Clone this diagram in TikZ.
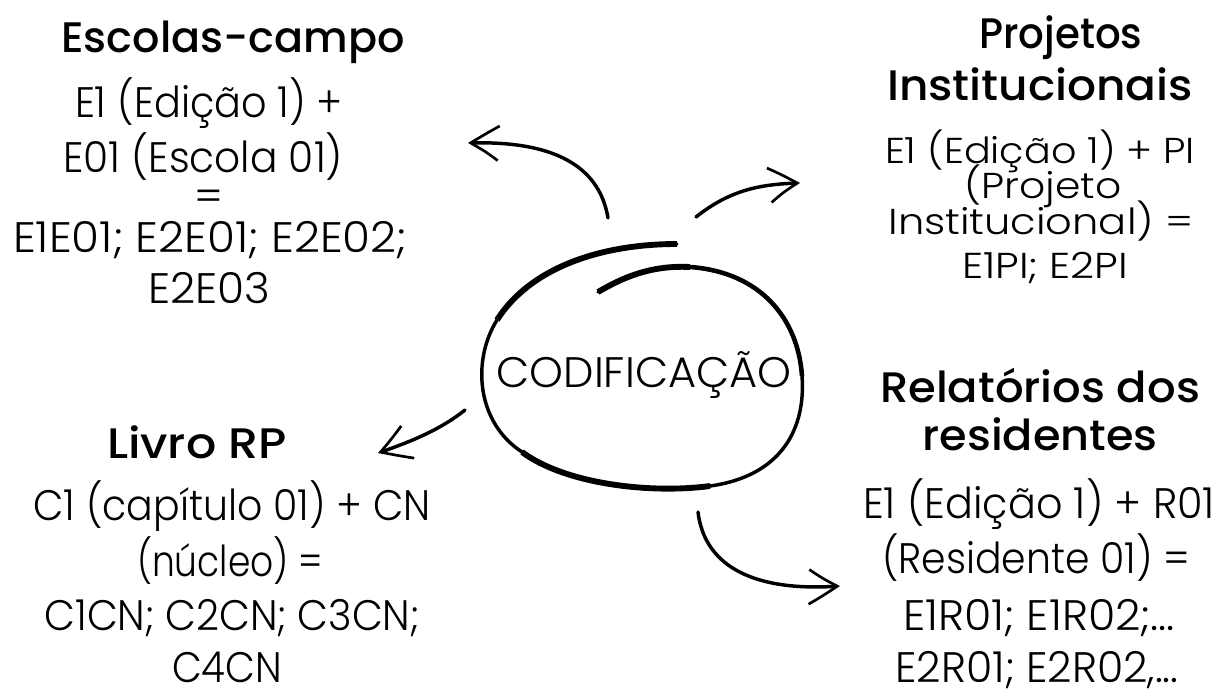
\documentclass[tikz,border=0pt]{standalone}
\usepackage{fontspec}
\setmainfont{Poppins}
\newfontfamily\headf{Poppins Medium}
\newfontfamily\bodyf{Poppins Light}
\usetikzlibrary{arrows.meta,bending}
\newlength\fitlen
% fit text #2 horizontally to #1 px (1px = 0.75pt here)
\newcommand\fitto[2]{\settowidth\fitlen{#2}\pgfmathsetmacro\fitfac{#1*0.75/\fitlen}\scalebox{\fitfac}[1]{#2}}
\tikzset{
  head/.style={anchor=base,inner sep=0pt,font=\headf\fontsize{32}{38}\selectfont},
  body/.style={anchor=base,inner sep=0pt,font=\bodyf\fontsize{32}{38}\selectfont},
  bodysm/.style={anchor=base,inner sep=0pt,font=\bodyf\fontsize{27}{32}\selectfont},
  loopline/.style={line width=2.6pt,line cap=round,line join=round},
  loopthick/.style={line width=4.4pt,line cap=butt},
  sketcharrow/.style={line width=2.6pt,line cap=round,
    -{Straight Barb[length=22pt,width=26pt,line width=2pt,bend]}},
}
\begin{document}
\begin{tikzpicture}[x=0.75pt,y=-0.75pt]
\useasboundingbox (0,0) rectangle (1221,690);
% central loop
\coordinate (p0) at (677,244);
\coordinate (p1) at (497,320);
\coordinate (p2) at (522,452);
\coordinate (p3) at (710,486);
\coordinate (p4) at (802,376);
\coordinate (p5) at (690,267);
\coordinate (p6) at (598,292);
\draw[loopline] (p0) .. controls (600,244) and (530,268) .. (p1)
  .. controls (472,360) and (476,422) .. (p2)
  .. controls (565,484) and (650,494) .. (p3)
  .. controls (782,476) and (806,428) .. (p4)
  .. controls (798,318) and (760,272) .. (p5)
  .. controls (650,265) and (622,278) .. (p6);
\draw[loopthick] (p0) .. controls (600,244) and (530,268) .. (p1);
\draw[loopthick] (p2) .. controls (565,484) and (650,494) .. (p3);
\draw[loopthick] (p5) .. controls (650,265) and (622,278) .. (p6);
\draw[loopthick,line width=3.4pt] (p4) .. controls (798,318) and (760,272) .. (p5);
\node[body] (cod) at (644,387) {\fitto{295}{CODIFICAÇÃO}};
% Escolas-campo
\node[head] (h1) at (233,52) {\fitto{343}{Escolas-campo}};
\node[body] (a1) at (209,117) {\fitto{268}{E1 (Edição 1) +}};
\node[body] (a2) at (203,172) {\fitto{280}{E01 (Escola 01)}};
\node[body] (a3) at (209,211) {=};
\node[body] (a4) at (210,252) {\fitto{394}{E1E01; E2E01; E2E02;}};
\node[body] (a5) at (209,303) {\fitto{122}{E2E03}};
% Projetos Institucionais
\node[head] (h2a) at (1061,48) {\fitto{163}{Projetos}};
\node[head] (h2b) at (1040,100) {\fitto{306}{Institucionais}};
\node[bodysm] (b1) at (1040,163) {\fitto{310}{E1 (Edição 1) + PI}};
\node[bodysm] (b2) at (1043,198) {\fitto{157}{(Projeto}};
\node[bodysm] (b3) at (1041,234) {\fitto{305}{Institucional) =}};
\node[bodysm] (b4) at (1045,278) {\fitto{166}{E1PI; E2PI}};
% Livro RP
\node[head] (h3) at (197,458) {\fitto{180}{Livro RP}};
\node[body] (c1) at (232,520) {\fitto{397}{C1 (capítulo 01) + CN}};
\node[body] (c2) at (230,576) {\fitto{186}{(núcleo) =}};
\node[body] (c3) at (232,630) {\fitto{375}{C1CN; C2CN; C3CN;}};
\node[body] (c4) at (227,682) {\fitto{110}{C4CN}};
% Relatorios dos residentes
\node[head] (h4a) at (1040,402) {\fitto{320}{Relatórios dos}};
\node[head] (h4b) at (1040,450) {\fitto{235}{residentes}};
\node[body] (d1) at (1039,518) {\fitto{352}{E1 (Edição 1) + R01}};
\node[body] (d2) at (1036,573) {\fitto{308}{(Residente 01) =}};
\node[body] (d3) at (1039,630) {\fitto{272}{E1R01; E1R02;...}};
\node[body] (d4) at (1037,682) {\fitto{283}{E2R01; E2R02,...}};
% arrows
\coordinate (s1) at (608,218); \coordinate (t1) at (468,143);
\coordinate (s2) at (696,217); \coordinate (t2) at (800,183);
\coordinate (s3) at (465,410); \coordinate (t3) at (378,453);
\coordinate (s4) at (698,512); \coordinate (t4) at (840,586);
\draw[sketcharrow] (s1) .. controls (600,170) and (560,140) .. (t1);
\draw[sketcharrow] (s2) .. controls (730,190) and (760,184) .. (t2);
\draw[sketcharrow] (s3) .. controls (440,430) and (410,442) .. (t3);
\draw[sketcharrow] (s4) .. controls (705,570) and (760,592) .. (t4);
\end{tikzpicture}
\end{document}
